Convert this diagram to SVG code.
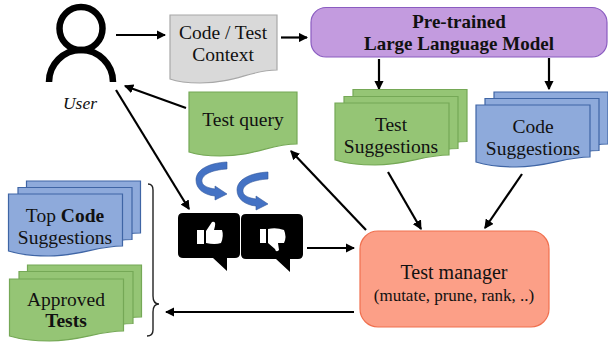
<svg xmlns="http://www.w3.org/2000/svg" width="608" height="345" viewBox="0 0 608 345">
<style>
text{font-family:"Liberation Serif","DejaVu Serif",serif;font-size:19.500px;fill:#111;text-anchor:middle}
.b{font-weight:bold}
.green{fill:#95c575;stroke:#75a856;stroke-width:1.2}
.blue{fill:#8eaadb;stroke:#3f65a5;stroke-width:1.2}
.gray{fill:#d9d9d9;stroke:#a8a8a8;stroke-width:1.2}
.con{fill:none;stroke:#000;stroke-width:2.200;marker-end:url(#ah)}
.turn{fill:#4472c4;stroke:#34599c;stroke-width:.6}
</style>
<defs>
<marker id="ah" viewBox="0 0 8 8" refX="7" refY="4" markerWidth="4.300" markerHeight="4.300" orient="auto"><path d="M0 0L8 4L0 8Z"/></marker>
<path id="doc" d="M0 0H114V52C88 52 72 62 40 62C22 62 10 60 0 57Z"/>
<path id="curve" d="M31 0V7C15 8 5 13 6 20C7 24 12 26 19 27V24L31 32L19 38V34C8 33 0 27 0 18C0 8 12 1 31 0Z"/>
<path id="bubble" d="M5 0H57Q62 0 62 5V40Q62 45 57 45H49V58L35 45H5Q0 45 0 40V5Q0 0 5 0Z"/>
</defs>

<g id="connectors">
<path class="con" d="M116 35H165"/>
<path class="con" d="M281 37.500H307"/>
<path class="con" d="M379 59V89"/>
<path class="con" d="M549 58V89"/>
<path class="con" d="M186 108L125 86"/>
<path class="con" d="M116 90L189 209"/>
<path class="con" d="M366 230L291 151"/>
<path class="con" d="M388 172L421 229"/>
<path class="con" d="M522 174L485 228"/>
<path class="con" d="M307 248H354"/>
<path class="con" d="M354 312H166"/>
</g>

<g id="user">
<circle cx="81" cy="28.500" r="21.500" fill="none" stroke="#000" stroke-width="6.500"/>
<path d="M49 82A32 32 0 0 1 113 82" fill="none" stroke="#000" stroke-width="6.500"/>
<text x="80" y="109" font-style="italic" style="font-size:17.500px">User</text>
</g>

<g id="context">
<path class="gray" d="M170 15H277V70C250 70 236 83 200 83C188 83 178 82 170 79Z"/>
<text x="223" y="38.500">Code / Test</text>
<text x="223" y="60.500">Context</text>
</g>

<g id="test-query">
<path class="green" d="M189 92H297V144C270 144 256 156 220 156C208 156 198 155 189 152Z"/>
<text x="243" y="126">Test query</text>
</g>

<g id="llm">
<rect x="311" y="7.500" width="296" height="49.500" rx="15" fill="#c39bdf" stroke="#8a5cc0" stroke-width="1.200"/>
<text class="b" x="459" y="28" style="font-size:19px">Pre-trained</text>
<text class="b" x="459" y="50" style="font-size:19px">Large Language Model</text>
</g>

<g id="test-suggestions">
<use href="#doc" class="green" x="353" y="89.500"/>
<use href="#doc" class="green" x="344" y="96.500"/>
<use href="#doc" class="green" x="335" y="103"/>
<text x="391" y="131">Test</text>
<text x="391" y="153">Suggestions</text>
</g>

<g id="code-suggestions">
<use href="#doc" class="blue" x="494" y="92"/>
<use href="#doc" class="blue" x="485" y="98.500"/>
<use href="#doc" class="blue" x="476" y="105"/>
<text x="533" y="133">Code</text>
<text x="533" y="155">Suggestions</text>
</g>

<g id="top-code">
<use href="#doc" class="blue" x="26.500" y="181"/>
<use href="#doc" class="blue" x="18" y="187.500"/>
<use href="#doc" class="blue" x="8.500" y="194"/>
<text x="65" y="222">Top <tspan class="b">Code</tspan></text>
<text x="65" y="244">Suggestions</text>
</g>

<g id="approved-tests">
<use href="#doc" class="green" x="27.500" y="265"/>
<use href="#doc" class="green" x="19" y="271.500"/>
<use href="#doc" class="green" x="9.500" y="279"/>
<text x="66" y="306">Approved</text>
<text class="b" x="66" y="327">Tests</text>
</g>

<g id="brace">
<path d="M148 184C152 184 153 186 153 190V296C153 301 155 304 159 304C155 304 153 307 153 312V330C153 334 151 336 147 336" fill="none" stroke="#222" stroke-width="1.400"/>
</g>

<g id="turn-arrows">
<use href="#curve" class="turn" x="196" y="162"/>
<use href="#curve" class="turn" x="237" y="172"/>
</g>

<g id="thumb-up">
<use href="#bubble" x="178" y="213"/>
<path d="M197 230H204V244H197ZM206 231L212 222Q216 221 215 226L214 230H222Q224 236 221 243Q215 245 206 243Z" fill="#fff"/>
</g>

<g id="thumb-down">
<use href="#bubble" x="241" y="214"/>
<path d="M260 229H266V243H260ZM268 229Q276 227 284 230Q287 237 284 243H278L279 250Q276 253 275 249L268 243Z" fill="#fff"/>
</g>

<g id="test-manager">
<rect x="360" y="231" width="189" height="96" rx="18" fill="#fc9f87" stroke="#f0704f" stroke-width="1.200"/>
<text x="454" y="279" style="font-size:20px">Test manager</text>
<text x="454" y="301" style="font-size:17px">(mutate, prune, rank, ..)</text>
</g>
</svg>
